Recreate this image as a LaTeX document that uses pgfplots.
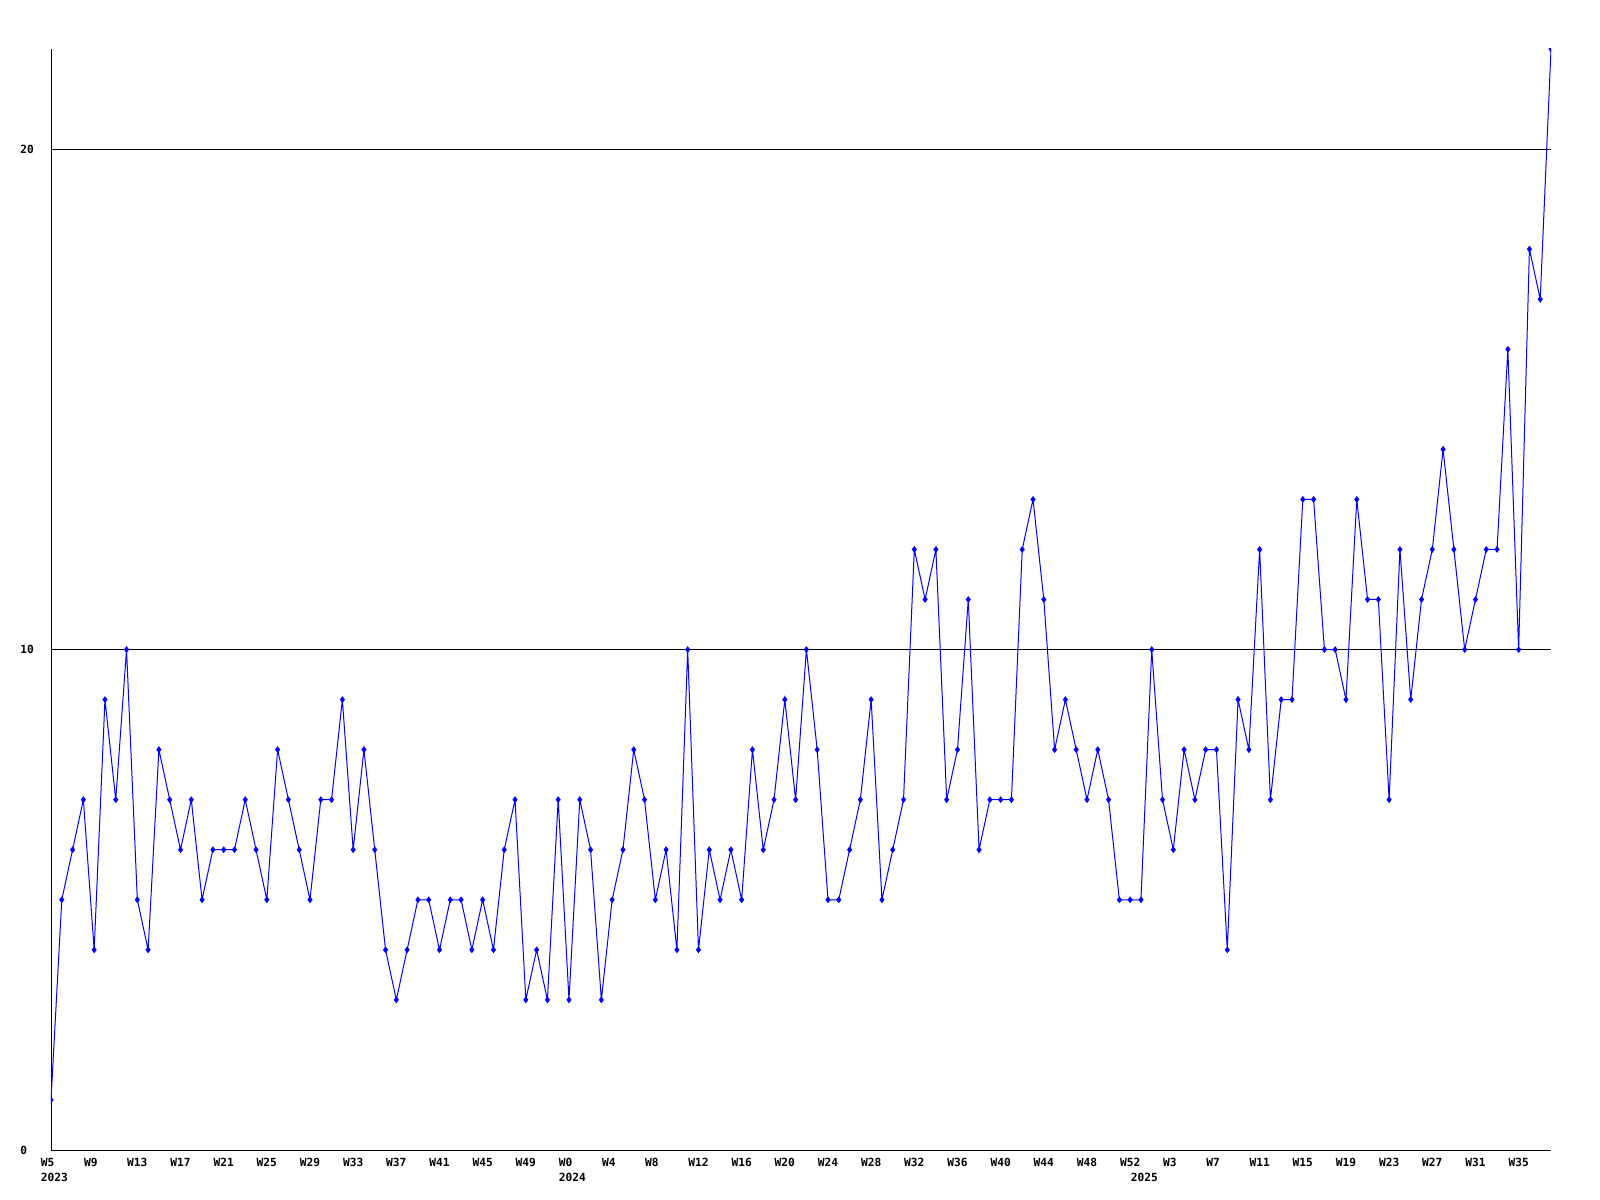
\documentclass[border=0pt]{standalone}
\usepackage{fontspec}
\setmonofont{DejaVu Sans Mono}
\usepackage{pgfplots}
\pgfplotsset{compat=1.18}
\usetikzlibrary{calc}
\definecolor{lineblue}{RGB}{0,0,255}
\newcommand{\lblfont}{\fontsize{5.6bp}{7.5bp}\selectfont\ttfamily\bfseries}

% weekly counts, 2023 W5 .. 2025 W38 (index 0..139)
\pgfplotstableread{
x y
0 1
1 5
2 6
3 7
4 4
5 9
6 7
7 10
8 5
9 4
10 8
11 7
12 6
13 7
14 5
15 6
16 6
17 6
18 7
19 6
20 5
21 8
22 7
23 6
24 5
25 7
26 7
27 9
28 6
29 8
30 6
31 4
32 3
33 4
34 5
35 5
36 4
37 5
38 5
39 4
40 5
41 4
42 6
43 7
44 3
45 4
46 3
47 7
48 3
49 7
50 6
51 3
52 5
53 6
54 8
55 7
56 5
57 6
58 4
59 10
60 4
61 6
62 5
63 6
64 5
65 8
66 6
67 7
68 9
69 7
70 10
71 8
72 5
73 5
74 6
75 7
76 9
77 5
78 6
79 7
80 12
81 11
82 12
83 7
84 8
85 11
86 6
87 7
88 7
89 7
90 12
91 13
92 11
93 8
94 9
95 8
96 7
97 8
98 7
99 5
100 5
101 5
102 10
103 7
104 6
105 8
106 7
107 8
108 8
109 4
110 9
111 8
112 12
113 7
114 9
115 9
116 13
117 13
118 10
119 10
120 9
121 13
122 11
123 11
124 7
125 12
126 9
127 11
128 12
129 14
130 12
131 10
132 11
133 12
134 12
135 16
136 10
137 18
138 17
139 22
}\weekly

\begin{document}
\begin{tikzpicture}
\begin{axis}[
  scale only axis, width=750bp, height=550.5bp,
  xmin=0, xmax=139, ymin=0, ymax=22,
  axis lines*=left,
  axis line style={black, line width=0.5bp},
  major tick length=0pt,
  xtick={0,4,...,136},
  xticklabels={W5,W9,W13,W17,W21,W25,W29,W33,W37,W41,W45,W49,
    W0,W4,W8,W12,W16,W20,W24,W28,W32,W36,W40,W44,W48,W52,
    W3,W7,W11,W15,W19,W23,W27,W31,W35},
  ytick={0,10,20}, yticklabels={0,10,20},
  ymajorgrids, grid style={black, line width=0.5bp},
  tick label style={font=\lblfont, inner sep=0pt},
  xticklabel style={anchor=north west, xshift=-5.25bp, yshift=-4bp},
  yticklabel style={anchor=west, xshift=-15.5bp},
  /pgf/number format/assume math mode=true,
  clip marker paths=true,
]
\addplot[lineblue, line width=0.5bp, mark=diamond*,
  mark size=1.3bp, mark options={fill=lineblue}] table {\weekly};
\coordinate (y23) at (axis cs:0,0);
\coordinate (y24) at (axis cs:48,0);
\coordinate (y25) at (axis cs:101,0);
\end{axis}
\foreach \c/\t in {y23/2023, y24/2024, y25/2025}
  \node[anchor=north west, inner sep=0pt, font=\lblfont,
    xshift=-5.25bp, yshift=-11.5bp] at (\c) {\t};
\path ($(current axis.south west)+(-25.5bp,-25bp)$)
  rectangle ($(current axis.north east)+(24.5bp,24.5bp)$);
\end{tikzpicture}
\end{document}
